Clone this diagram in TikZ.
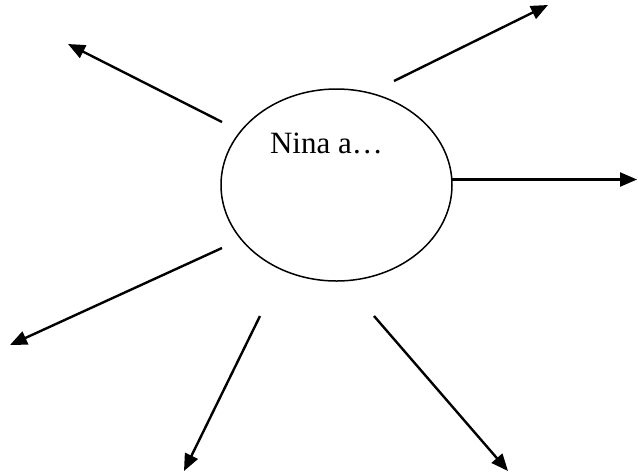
\documentclass[tikz,border=0pt]{standalone}
\usepackage{fontspec}
\setmainfont{Liberation Serif}
\usetikzlibrary{arrows.meta,shapes.geometric}
\begin{document}
\begin{tikzpicture}[x=1pt,y=-1pt,
  arr/.style={draw=black,line width=2.4pt,-{Triangle[length=17pt,width=14pt]}},
  bubble/.style={draw=black,line width=1.5pt,ellipse,minimum width=231pt,minimum height=192pt,inner sep=0pt},
  lbl/.style={font=\fontsize{31}{37}\selectfont,inner sep=0pt,anchor=base}]
\useasboundingbox (0,0) rectangle (638,475);
\node[bubble] (c) at (336.5,185) {};
\node[lbl] (t) at (326.5,153.5) {Nina a…};
\coordinate (s1) at (394,81);   \coordinate (e1) at (548,5);
\coordinate (s2) at (222,122);  \coordinate (e2) at (68,44);
\coordinate (s3) at (452,179.5);\coordinate (e3) at (637,179.5);
\coordinate (s4) at (222,248);  \coordinate (e4) at (10,345);
\coordinate (s5) at (260,316);  \coordinate (e5) at (184,471);
\coordinate (s6) at (374,316);  \coordinate (e6) at (508,471);
\draw[arr] (s1) -- (e1);
\draw[arr] (s2) -- (e2);
\draw[arr] (s3) -- (e3);
\draw[arr] (s4) -- (e4);
\draw[arr] (s5) -- (e5);
\draw[arr] (s6) -- (e6);
\end{tikzpicture}
\end{document}
